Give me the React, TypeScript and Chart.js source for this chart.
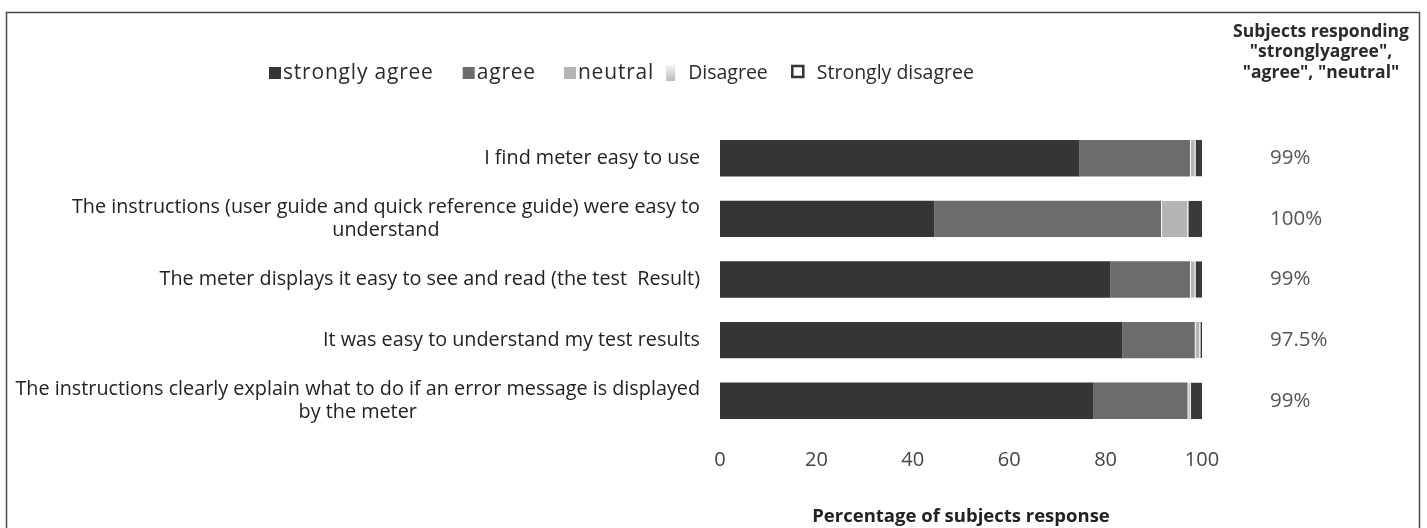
import React, { useEffect, useRef } from "react";
import { Chart, registerables } from "chart.js";

Chart.register(...registerables);

const W = 1427;
const H = 528;
const FONT = "'Open Sans', 'Noto Sans', sans-serif";

// Survey statements (one entry per bar, split into display lines)
const statements: string[][] = [
  ["I find meter easy to use"],
  ["The instructions (user guide and quick reference guide) were easy to", "understand"],
  ["The meter displays it easy to see and read (the test  Result)"],
  ["It was easy to understand my test results"],
  ["The instructions clearly explain what to do if an error message is displayed", "by the meter"],
];

// Percentage of subjects per response, in statement order
const stronglyAgree = [74.5, 44.5, 81, 83.5, 77.5];
const agree = [23, 47, 16.5, 15, 19.5];
const neutral = [1, 5.5, 1, 1, 0.5];
const disagree = [0, 0, 0, 0, 0];
const stronglyDisagree = [1.5, 3, 1.5, 0.5, 2.5];

// Share answering strongly agree / agree / neutral
const positiveShare = ["99%", "100%", "99%", "97.5%", "99%"];
const positiveHeader = ["Subjects responding", "\"stronglyagree\",", "\"agree\", \"neutral\""];

const responseLabels = ["strongly agree", "agree", "neutral", "Disagree", "Strongly disagree"];
const responseColors = ["#353535", "#6c6c6c", "#b5b5b5", "#d9d9d9", "#3a3a3a"];
const legendMarks = ["fill", "fill", "fill", "fade", "outline"];

const xTicks = { min: 0, max: 100, step: 20 };

const decorPlugin = {
  id: "surveyDecor",
  afterDraw(chart: any) {
    const { ctx } = chart;
    const yScale = chart.scales.y;
    ctx.save();

    // frame around the figure (open at the bottom)
    ctx.strokeStyle = "#4a4a4a";
    ctx.lineWidth = 1.5;
    ctx.beginPath();
    ctx.moveTo(6.5, H);
    ctx.lineTo(6.5, 12.5);
    ctx.lineTo(1419.5, 12.5);
    ctx.lineTo(1419.5, H);
    ctx.stroke();

    // legend row
    ctx.textBaseline = "middle";
    ctx.textAlign = "left";
    const gaps = [29, 28, 10, 23];
    let lx = 269;
    const ly = 73;
    chart.data.datasets.forEach((ds: any, i: number) => {
      const mark = legendMarks[i];
      if (mark === "fill") {
        ctx.fillStyle = ds.backgroundColor;
        ctx.fillRect(lx, ly - 6, 12, 12);
        lx += 14;
        ctx.font = `21px ${FONT}`;
        ctx.letterSpacing = "0.8px";
      } else if (mark === "fade") {
        const g = ctx.createLinearGradient(0, ly - 8, 0, ly + 8);
        g.addColorStop(0, "#f4f4f4");
        g.addColorStop(1, "#bcbcbc");
        ctx.fillStyle = g;
        ctx.fillRect(lx + 2, ly - 8, 9, 16);
        lx += 24;
        ctx.font = `19.5px ${FONT}`;
        ctx.letterSpacing = "0px";
      } else {
        ctx.strokeStyle = "#333";
        ctx.lineWidth = 2.5;
        ctx.fillStyle = "#fff";
        ctx.beginPath();
        ctx.rect(lx + 1.5, ly - 7, 11, 11);
        ctx.fill();
        ctx.stroke();
        lx += 26;
        ctx.font = `19.5px ${FONT}`;
        ctx.letterSpacing = "0px";
      }
      ctx.fillStyle = "#2a2a2a";
      ctx.fillText(ds.label, lx, ly);
      lx += ctx.measureText(ds.label).width + (gaps[i] ?? 0);
    });
    ctx.letterSpacing = "0px";

    // statement labels: block right-aligned to the axis, lines centred in the block
    ctx.font = `19.8px ${FONT}`;
    ctx.fillStyle = "#222";
    ctx.textAlign = "center";
    const lineH = 23;
    const rightEdge = 700;
    statements.forEach((lines, i) => {
      const yc = yScale.getPixelForValue(i);
      const bw = Math.max(...lines.map((l) => ctx.measureText(l).width));
      const cx = rightEdge - bw / 2;
      const y0 = yc - ((lines.length - 1) * lineH) / 2;
      lines.forEach((l, k) => ctx.fillText(l, cx, y0 + k * lineH));
    });

    // right-hand column: header and per-statement shares
    ctx.font = `bold 17.5px ${FONT}`;
    ctx.fillStyle = "#2a2a2a";
    ctx.textAlign = "center";
    positiveHeader.forEach((l, k) => ctx.fillText(l, 1321, 32 + k * 20.5));

    ctx.font = `20.5px ${FONT}`;
    ctx.fillStyle = "#555";
    ctx.textAlign = "left";
    positiveShare.forEach((t, i) => {
      ctx.fillText(t, 1270, yScale.getPixelForValue(i));
    });

    ctx.restore();
  },
};

export default function App() {
  const ref = useRef<HTMLCanvasElement>(null);

  useEffect(() => {
    const canvas = ref.current;
    if (!canvas) return;
    const series = [stronglyAgree, agree, neutral, disagree, stronglyDisagree];
    const chart = new Chart(canvas, {
      type: "bar",
      data: {
        labels: statements.map((s) => s.join(" ")),
        datasets: series.map((values, i) => ({
          label: responseLabels[i],
          data: values,
          backgroundColor: responseColors[i],
          borderColor: "#ffffff",
          borderWidth: i >= 2 ? { left: 1, right: 0, top: 0, bottom: 0 } : 0,
          borderSkipped: false,
          barPercentage: 0.6,
          categoryPercentage: 1,
        })),
      },
      options: {
        indexAxis: "y",
        responsive: false,
        animation: false,
        layout: { padding: { top: 128, right: 225, bottom: 0, left: 0 } },
        plugins: {
          legend: { display: false },
          title: { display: false },
          tooltip: { enabled: false },
        },
        scales: {
          x: {
            stacked: true,
            min: xTicks.min,
            max: xTicks.max,
            grid: { display: false, drawTicks: false },
            border: { display: false },
            ticks: {
              stepSize: xTicks.step,
              padding: 17,
              color: "#444",
              font: { family: FONT, size: 20 },
            },
            title: {
              display: true,
              text: "Percentage of subjects response",
              color: "#222",
              font: { family: FONT, size: 18.5, weight: "bold" },
              padding: { top: 0, bottom: 0 },
            },
            afterFit(scale: any) {
              scale.height = 97;
            },
          },
          y: {
            stacked: true,
            grid: { display: false, drawTicks: false },
            border: { display: false },
            ticks: { display: false },
            afterFit(scale: any) {
              scale.width = 720;
            },
          },
        },
      } as any,
      plugins: [decorPlugin],
    });
    return () => chart.destroy();
  }, []);

  return (
    <div style={{ position: "fixed", left: 0, top: 0, width: W, height: H, background: "#fff" }}>
      <canvas ref={ref} width={W} height={H} style={{ display: "block" }} />
    </div>
  );
}
